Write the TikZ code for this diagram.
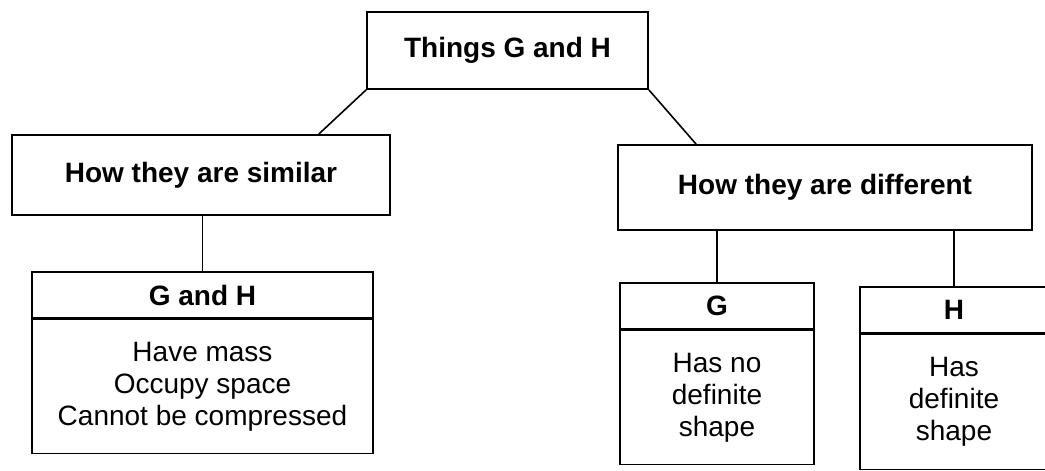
\documentclass[tikz,border=0pt]{standalone}
\usepackage{fontspec}
\setmainfont{Liberation Sans}
\usetikzlibrary{positioning,calc}

\begin{document}
\begin{tikzpicture}[x=1pt,y=-1pt,
         box/.style = {draw, line width=1.6pt, inner sep=2pt,
         font=\fontsize{28}{32}\selectfont\bfseries},
         head/.style = {box, minimum height=46pt},
         body/.style = {draw, line width=1.6pt, inner sep=2pt, align=center,
         minimum height=134pt, font=\fontsize{28}{32}\selectfont},
         link/.style = {line width=1.6pt}
]
      \useasboundingbox (0,0) rectangle (1045,471);

      % top row
      \node[box, minimum width=281pt, minimum height=77pt] (things) at (507.5,50.5) {Things G and H};
      \node[box, minimum width=378pt, minimum height=80pt] (sim)    at (201,175)    {How they are similar};
      \node[box, minimum width=414pt, minimum height=85pt] (dif)    at (825,187.5)  {How they are different};

      % G and H together
      \node[head, minimum width=341pt] (gh0) at (202.5,295) {G and H};
      \node[body, minimum width=341pt, below=0pt of gh0] (gh1)
         {Have mass\\Occupy space\\Cannot be compressed};

      % G apart
      \node[head, minimum width=194pt] (g0) at (717,306) {G};
      \node[body, minimum width=194pt, below=0pt of g0] (g1)
         {Has no\\definite\\shape};

      % H apart
      \node[head, minimum width=188pt] (h0) at (954,310) {H};
      \node[body, minimum width=188pt, minimum height=135pt, below=0pt of h0] (h1)
         {Has\\definite\\shape};

      \draw[link] (things.south west) -- ($(sim.north west)!0.81!(sim.north east)$);
      \draw[link] (things.south east) -- ($(dif.north west)!0.19!(dif.north east)$);
      \draw[link] (gh0.north) -- (gh0.north |- sim.south);
      \draw[link] (g0.north)  -- (g0.north |- dif.south);
      \draw[link] (h0.north)  -- (h0.north |- dif.south);
\end{tikzpicture}
\end{document}
